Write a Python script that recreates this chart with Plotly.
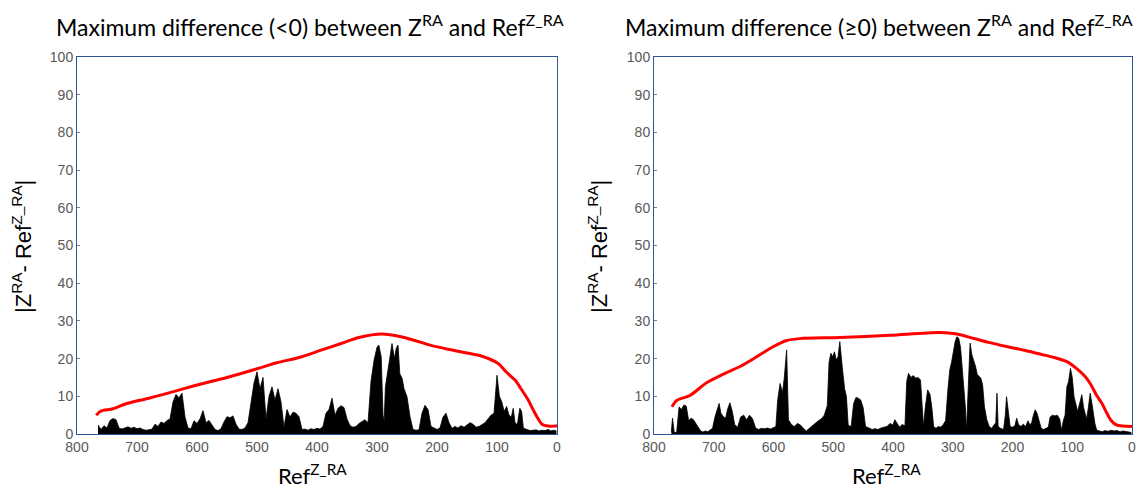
import plotly.graph_objects as go

# ---------------- data ----------------
# Left panel: maximum difference (<0)
left_bar_x = [765, 760, 755, 750, 745, 740, 735, 730, 725, 720, 715, 710, 705, 700, 695, 690, 685, 680,
              675, 670, 665, 660, 655, 650, 645, 640, 635, 630, 625, 620, 615, 610, 605, 600, 595, 590,
              585, 580, 575, 570, 565, 560, 555, 550, 545, 540, 535, 530, 525, 520, 515, 510, 505, 500,
              495, 490, 485, 480, 475, 470, 465, 460, 455, 450, 445, 440, 435, 430, 425, 420, 415, 410,
              405, 400, 395, 390, 385, 380, 375, 370, 365, 360, 355, 350, 345, 340, 335, 330, 325, 320,
              315, 310, 305, 300, 297, 293, 290, 288, 286, 282, 278, 275, 271, 268, 265, 262, 258, 255,
              250, 245, 240, 235, 230, 225, 220, 215, 210, 205, 200, 195, 190, 185, 180, 175, 170, 165,
              160, 155, 150, 145, 140, 135, 130, 125, 120, 115, 110, 105, 100, 96, 92, 88, 84, 80, 76,
              73, 70, 66, 62, 59, 56, 50, 45, 40, 35, 30, 25, 20, 15, 10, 5, 1]
left_bar_y = [2.4, 1.2, 2.2, 1.6, 3.6, 4.1, 3.8, 1.6, 1.3, 1.7, 1.9, 1.5, 1.8, 1.4, 1.6, 1.2, 1.0, 1.1,
              1.3, 2.6, 2.0, 3.2, 2.8, 3.6, 4.0, 8.5, 10.5, 9.6, 10.8, 4.5, 1.6, 1.4, 3.5, 2.8, 4.0, 6.2,
              3.0, 3.6, 2.2, 1.2, 0.9, 1.4, 3.2, 4.6, 4.3, 4.8, 2.6, 1.3, 1.2, 1.6, 3.0, 8.5, 13.5, 16.5,
              12.0, 15.0, 4.0, 10.0, 12.5, 9.0, 12.0, 8.5, 1.8, 6.5, 4.5, 5.8, 5.5, 4.6, 1.2, 1.3, 1.0, 1.4,
              1.2, 1.5, 1.3, 2.0, 5.5, 6.5, 9.5, 5.0, 6.8, 7.5, 7.0, 4.0, 2.2, 1.8, 2.0, 2.8, 3.2, 3.8,
              3.0, 14.0, 19.5, 23.0, 23.6, 20.5, 5.0, 3.5, 12.5, 17.0, 22.0, 24.0, 20.0, 22.7, 23.6, 16.0, 14.7, 12.0,
              9.9, 4.6, 1.2, 1.0, 1.1, 5.5, 7.6, 6.5, 2.0, 1.5, 1.2, 1.6, 4.5, 5.5, 3.0, 1.5, 2.0, 1.6,
              2.2, 1.8, 2.4, 3.0, 2.6, 1.8, 2.0, 2.4, 3.0, 4.0, 5.0, 5.5, 15.6, 10.0, 8.5, 6.0, 7.3, 5.0, 4.5,
              6.8, 3.0, 2.5, 6.8, 6.0, 1.5, 1.2, 0.9, 1.0, 1.1, 0.8, 1.0, 0.9, 1.2, 0.8, 1.0, 0.8]
left_env_x = [768, 760, 740, 717, 680, 633, 600, 550, 500, 467, 430, 392, 360, 330, 292, 260, 237, 210,
              182, 150, 126, 98, 85, 70, 60, 48, 40, 32, 25, 15, 3, 0]
left_env_y = [5.0, 6.1, 6.7, 8.1, 9.5, 11.5, 13.0, 15.0, 17.3, 18.9, 20.3, 22.3, 24.0, 25.6, 26.5, 25.8, 24.8, 23.5,
              22.5, 21.5, 20.7, 18.7, 16.5, 14.3, 12.0, 9.0, 6.5, 4.2, 2.6, 2.1, 2.1, 2.1]

# Right panel: maximum difference (>=0)
right_bar_x = [771, 769, 766, 762, 758, 754, 750, 746, 742, 738, 734, 730, 726, 722, 718, 714, 710, 706,
               702, 698, 694, 691, 688, 684, 680, 677, 673, 669, 665, 660, 655, 650, 645, 640, 635, 630,
               625, 620, 615, 610, 605, 600, 596, 593, 589, 585, 582, 578, 575, 570, 565, 560, 555, 550,
               545, 540, 535, 530, 525, 520, 515, 510, 507, 504, 501, 498, 495, 492, 489, 485, 481, 478,
               475, 470, 466, 462, 458, 454, 450, 446, 440, 435, 430, 425, 420, 415, 410, 405, 400, 397,
               393, 389, 385, 380, 377, 374, 370, 366, 362, 358, 354, 351, 349, 346, 342, 338, 335, 332,
               328, 324, 320, 316, 312, 308, 305, 302, 299, 296, 293, 290, 287, 284, 281, 279, 277, 274,
               271, 268, 265, 262, 259, 256, 253, 250, 247, 243, 239, 235, 231, 228, 226, 224, 220, 215,
               212, 210, 207, 204, 200, 196, 193, 190, 186, 182, 178, 174, 171, 168, 165, 162, 159, 156,
               152, 148, 144, 140, 137, 133, 129, 125, 121, 118, 115, 112, 109, 106, 103, 100, 97, 94,
               91, 87, 84, 81, 79, 76, 73, 70, 67, 64, 62, 59, 55, 50, 45, 40, 35, 30, 25, 20, 15, 10, 5, 1]
right_bar_y = [0.5, 4.2, 0.3, 0.5, 7.2, 6.5, 7.7, 7.4, 3.5, 4.2, 3.8, 2.8, 2.0, 0.8, 0.5, 0.8, 0.6, 1.0,
               1.5, 4.5, 6.5, 8.1, 5.5, 4.6, 4.2, 6.5, 8.3, 6.0, 2.5, 1.8, 4.5, 5.0, 3.8, 5.0, 4.0, 1.6,
               1.2, 1.5, 1.4, 1.6, 1.3, 1.8, 2.0, 9.0, 13.4, 11.0, 14.8, 22.3, 3.8, 2.5, 2.0, 2.8, 2.4, 1.5,
               0.8, 1.5, 2.2, 2.8, 3.5, 4.0, 5.0, 7.5, 19.0, 21.4, 20.5, 21.8, 19.6, 20.5, 24.5, 17.9, 12.0, 10.0,
               2.3, 2.0, 8.0, 9.7, 9.5, 9.0, 7.0, 2.0, 1.5, 1.2, 1.4, 1.2, 1.6, 1.8, 2.0, 2.8, 2.4, 3.8,
               2.6, 1.8, 2.5, 2.2, 14.0, 16.1, 15.0, 15.5, 14.8, 15.0, 14.3, 8.0, 2.0, 7.0, 11.7, 10.5, 7.0, 2.0,
               1.5, 2.0, 1.8, 2.5, 3.5, 12.0, 17.0, 19.0, 21.4, 24.5, 25.8, 25.4, 23.0, 17.0, 12.0, 7.3, 1.0, 12.0,
               24.1, 21.0, 19.6, 18.0, 15.8, 15.2, 14.8, 13.0, 7.3, 3.8, 2.0, 1.5, 2.5, 3.0, 10.8, 2.0, 1.5, 1.2,
               5.0, 9.9, 6.0, 2.0, 1.8, 2.2, 4.2, 2.5, 2.0, 2.6, 2.0, 3.5, 2.4, 3.0, 5.0, 6.4, 5.5, 4.0,
               1.5, 1.2, 1.5, 1.8, 4.5, 5.0, 4.8, 5.0, 4.0, 1.0, 3.5, 5.0, 12.5, 14.0, 17.4, 15.0, 9.9, 8.0,
               6.0, 8.5, 10.4, 7.0, 5.5, 4.0, 7.0, 10.8, 8.0, 4.0, 2.7, 1.0, 0.8, 0.6, 0.9, 0.7, 1.0, 0.8, 0.9, 0.6, 0.8, 0.6, 0.5, 0.4]
right_env_x = [770, 762, 740, 712, 685, 656, 628, 600, 578, 556, 489, 405, 321, 293, 266, 240, 210, 180,
               154, 130, 109, 93, 80, 70, 60, 50, 42, 35, 26, 15, 0]
right_env_y = [7.2, 8.9, 10.2, 13.6, 15.8, 17.9, 20.5, 23.2, 24.8, 25.3, 25.6, 26.2, 26.9, 26.5, 25.4, 24.3, 23.2, 22.2,
               21.2, 20.3, 19.2, 17.4, 15.5, 13.4, 10.5, 8.0, 5.5, 3.6, 2.4, 2.1, 2.0]

x_ticks = [800, 700, 600, 500, 400, 300, 200, 100, 0]
y_ticks = [0, 10, 20, 30, 40, 50, 60, 70, 80, 90, 100]

titles = ["Maximum difference (&lt;0) between Z<sup>RA</sup> and Ref<sup>Z_RA</sup>",
          "Maximum difference (≥0) between Z<sup>RA</sup> and Ref<sup>Z_RA</sup>"]
x_title = "Ref<sup>Z_RA</sup>"
y_title = "|Z<sup>RA</sup>- Ref<sup>Z_RA</sup>|"

# ---------------- figure ----------------
# The page body keeps an 8px margin: the figure sits at page (8, 8).
OFF = 8
W, H = 1146 - 2 * OFF, 497 - 2 * OFF
ML, MT = 77 - OFF, 57 - OFF
MR = W - (1132 - OFF)
MB = H - (434 - OFF)
IW = W - ML - MR
IH = H - MT - MB

fig = go.Figure()

panels = [
    (left_bar_x, left_bar_y, left_env_x, left_env_y, "x", "y"),
    (right_bar_x, right_bar_y, right_env_x, right_env_y, "x2", "y2"),
]
for bx, by, ex, ey, xa, ya in panels:
    fig.add_trace(go.Scatter(x=bx, y=by, xaxis=xa, yaxis=ya, mode="lines",
                             fill="tozeroy", fillcolor="black",
                             line=dict(color="black", width=0.8), hoverinfo="skip"))
    fig.add_trace(go.Scatter(x=ex, y=ey, xaxis=xa, yaxis=ya, mode="lines",
                             line=dict(color="#FF0000", width=3, shape="spline", smoothing=0.8)))

def px_x(p):
    # p: page pixel -> paper coordinate
    return (p - OFF - ML) / IW

def px_y(p):
    return (H - MB - (p - OFF)) / IH

axis_color = "#2F5597"
tick_font = dict(family="Liberation Sans, Arial, sans-serif", size=14, color="#595959")

dom_left = [0, px_x(557)]
dom_right = [px_x(654), 1]

xcommon = dict(range=[800, 0], tickvals=x_ticks, showline=True, linecolor=axis_color, linewidth=1,
               mirror=True, showgrid=False, zeroline=False, ticks="", tickfont=tick_font,
               automargin=False)
ycommon = dict(range=[0, 100], tickvals=y_ticks, showline=True, linecolor=axis_color, linewidth=1,
               mirror=True, showgrid=False, zeroline=False, ticks="inside", ticklen=3,
               tickcolor="#7F7F7F", tickfont=tick_font, automargin=False)

fig.update_layout(
    width=W, height=H,
    margin=dict(l=ML, r=MR, t=MT, b=MB, autoexpand=False),
    paper_bgcolor="white", plot_bgcolor="white",
    showlegend=False,
    xaxis=dict(domain=dom_left, anchor="y", **xcommon),
    yaxis=dict(domain=[0, 1], anchor="x", **ycommon),
    xaxis2=dict(domain=dom_right, anchor="y2", **xcommon),
    yaxis2=dict(domain=[0, 1], anchor="x2", **ycommon),
)

title_font = dict(family="Lato, Open Sans, sans-serif", size=23, color="black")
xlabel_font = dict(family="Lato, Open Sans, sans-serif", size=22, color="black")
ylabel_font = dict(family="Liberation Sans, Arial, sans-serif", size=22, color="black")

ann = []
ann.append(dict(text=titles[0], x=px_x(310), y=px_y(OFF), xref="paper", yref="paper",
                showarrow=False, font=title_font, xanchor="center", yanchor="top"))
ann.append(dict(text=titles[1], x=px_x(879), y=px_y(OFF), xref="paper", yref="paper",
                showarrow=False, font=title_font, xanchor="center", yanchor="top"))
ann.append(dict(text=x_title, x=px_x(312), y=px_y(491), xref="paper", yref="paper",
                showarrow=False, font=xlabel_font, xanchor="center", yanchor="bottom"))
ann.append(dict(text=x_title, x=px_x(886), y=px_y(491), xref="paper", yref="paper",
                showarrow=False, font=xlabel_font, xanchor="center", yanchor="bottom"))
ann.append(dict(text=y_title, x=px_x(6), y=px_y(247), xref="paper", yref="paper",
                showarrow=False, font=ylabel_font, textangle=-90, xanchor="left", yanchor="middle"))
ann.append(dict(text=y_title, x=px_x(598), y=px_y(247), xref="paper", yref="paper",
                showarrow=False, font=ylabel_font, textangle=-90, xanchor="center", yanchor="middle"))
fig.update_layout(annotations=ann)

fig.write_html("out.html")
